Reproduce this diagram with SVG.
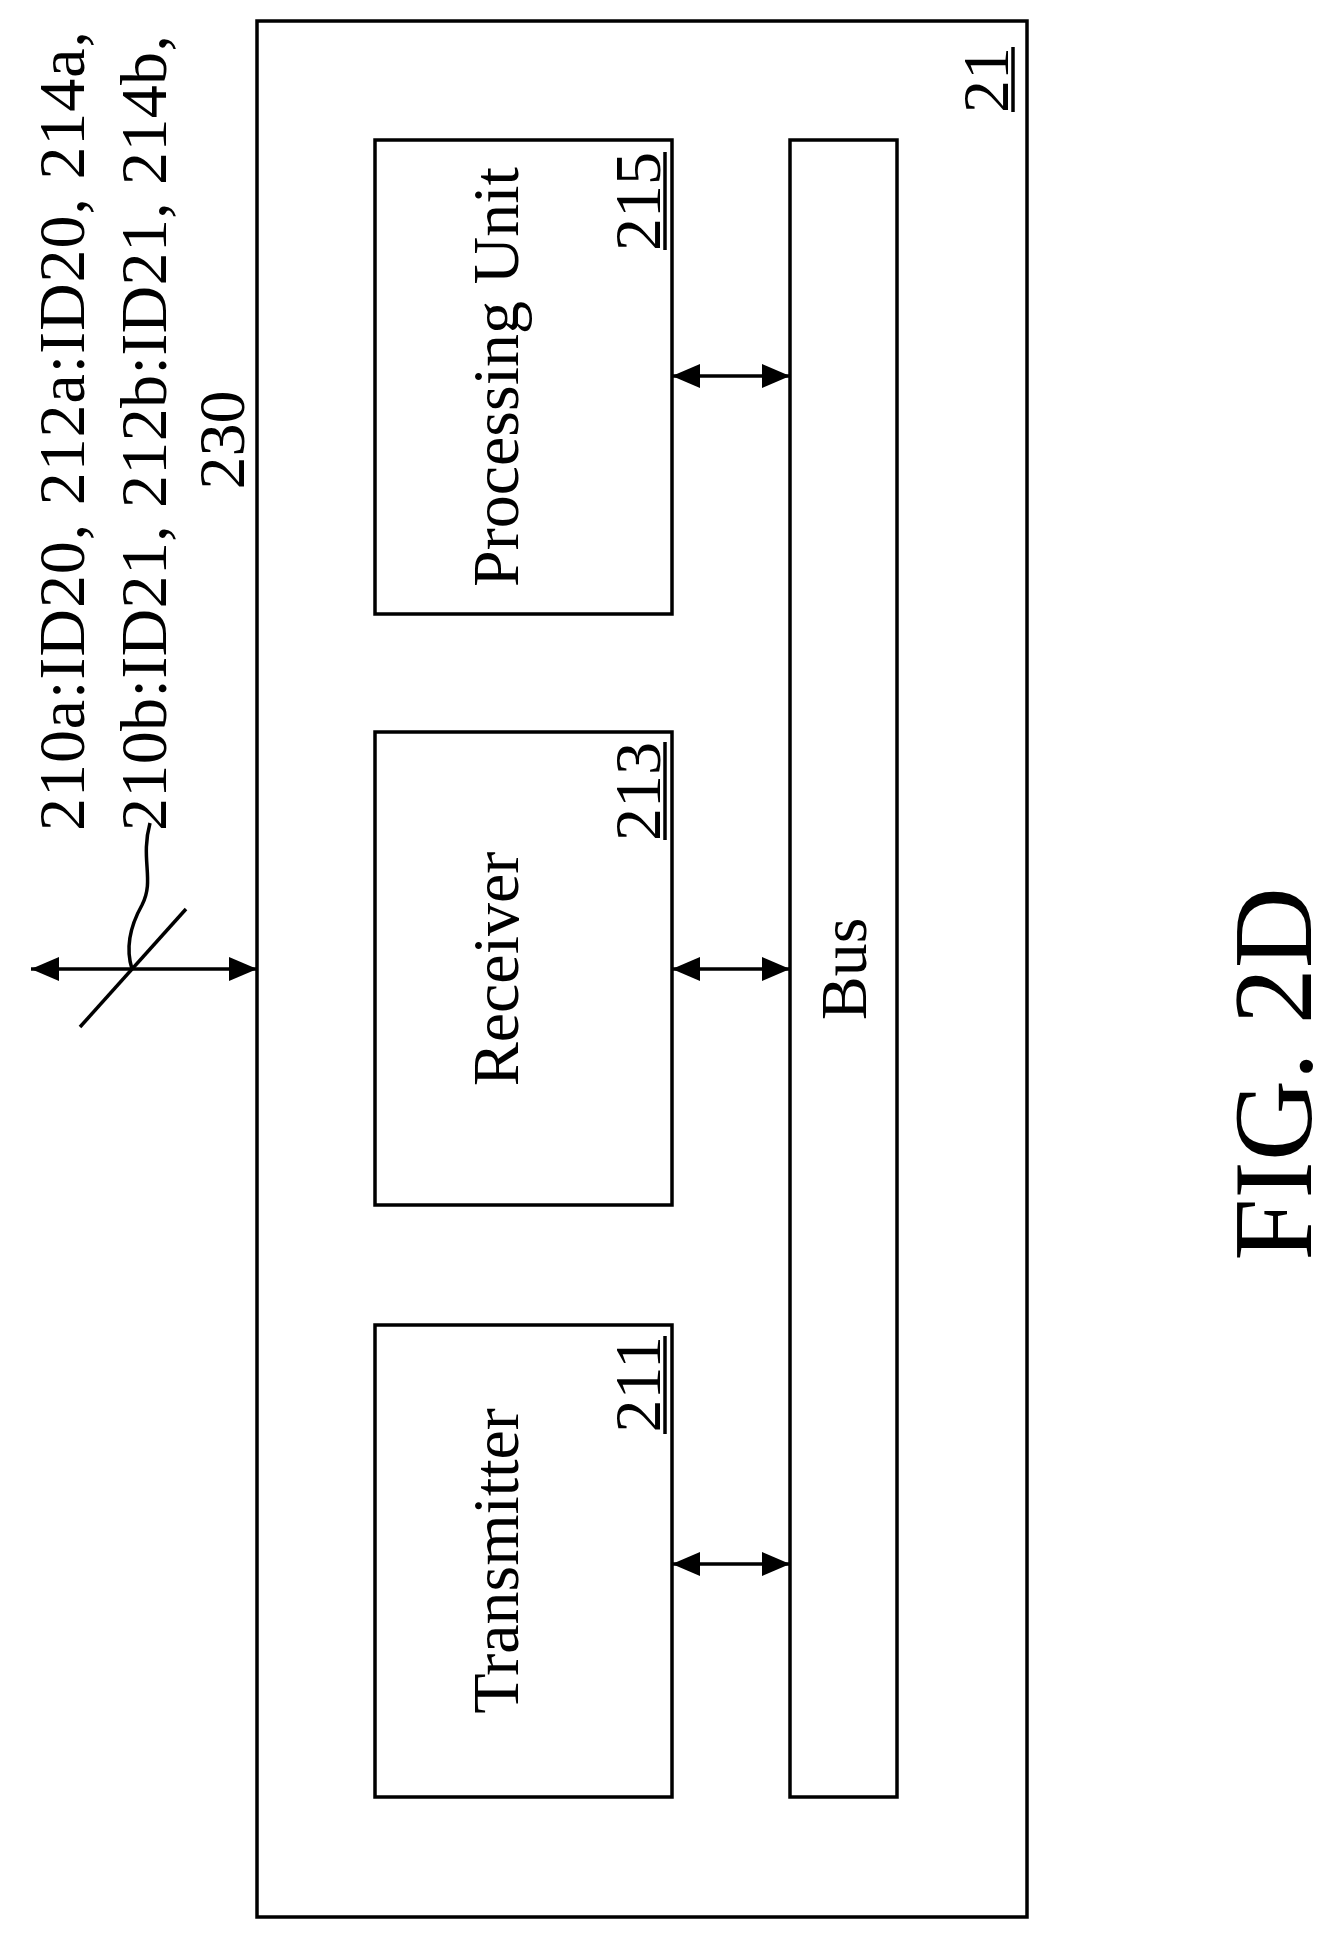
<svg xmlns="http://www.w3.org/2000/svg" width="1336" height="1933" viewBox="0 0 1336 1933">
<style>
.b{fill:none;stroke:#000;stroke-width:3.5}
.t{font-family:"Liberation Serif",serif;font-size:66px;fill:#000}
.c{stroke:#000;stroke-width:3.5;fill:none}
</style>
<defs>
<marker id="m" markerWidth="28" markerHeight="24" refX="28" refY="12" orient="auto-start-reverse" markerUnits="userSpaceOnUse"><path d="M0,0 L28,12 L0,24 Z" fill="#000"/></marker>
</defs>
<rect fill="#fff" width="1336" height="1933"/>
<g id="device21"><rect class="b" x="257" y="21" width="770" height="1896"/>
<text class="t" transform="translate(1008,47) rotate(-90)" text-anchor="end">21</text><line class="c" x1="1013" y1="47" x2="1013" y2="112"/></g>
<g id="processing"><rect class="b" x="375" y="140" width="297" height="474"/>
<text class="t" transform="translate(518,377) rotate(-90)" text-anchor="middle">Processing Unit</text>
<text class="t" transform="translate(660,152) rotate(-90)" text-anchor="end">215</text><line class="c" x1="665" y1="152" x2="665" y2="250"/></g>
<g id="receiver"><rect class="b" x="375" y="732" width="297" height="473"/>
<text class="t" transform="translate(518,969) rotate(-90)" text-anchor="middle">Receiver</text>
<text class="t" transform="translate(660,742) rotate(-90)" text-anchor="end">213</text><line class="c" x1="665" y1="742" x2="665" y2="840"/></g>
<g id="transmitter"><rect class="b" x="375" y="1325" width="297" height="472"/>
<text class="t" transform="translate(518,1561) rotate(-90)" text-anchor="middle">Transmitter</text>
<text class="t" transform="translate(660,1336) rotate(-90)" text-anchor="end">211</text><line class="c" x1="665" y1="1336" x2="665" y2="1434"/></g>
<g id="bus"><rect class="b" x="790" y="140" width="107" height="1657"/>
<text class="t" transform="translate(866,969) rotate(-90)" text-anchor="middle">Bus</text></g>
<g id="label">
<text class="t" transform="translate(84,831) rotate(-90)" textLength="800" lengthAdjust="spacing">210a:ID20, 212a:ID20, 214a,</text>
<text class="t" transform="translate(166,831) rotate(-90)" textLength="796" lengthAdjust="spacing">210b:ID21, 212b:ID21, 214b,</text>
<text class="t" transform="translate(244,440) rotate(-90)" text-anchor="middle">230</text>
</g>
<g id="connectors">
<line class="c" x1="672" y1="376" x2="790" y2="376" marker-start="url(#m)" marker-end="url(#m)"/>
<line class="c" x1="672" y1="969" x2="790" y2="969" marker-start="url(#m)" marker-end="url(#m)"/>
<line class="c" x1="672" y1="1564" x2="790" y2="1564" marker-start="url(#m)" marker-end="url(#m)"/>
<line class="c" x1="31" y1="969" x2="257" y2="969" marker-start="url(#m)" marker-end="url(#m)"/>
<line class="c" x1="80" y1="1027" x2="186" y2="909"/>
<path class="c" stroke-width="2" d="M150,823 C140,860 155,880 142,905 C128,930 126,950 132,969"/>
</g>
<text id="fig" font-family="Liberation Serif,serif" font-size="112" transform="translate(1311,1074) rotate(-90)" text-anchor="middle">FIG. 2D</text>
</svg>
